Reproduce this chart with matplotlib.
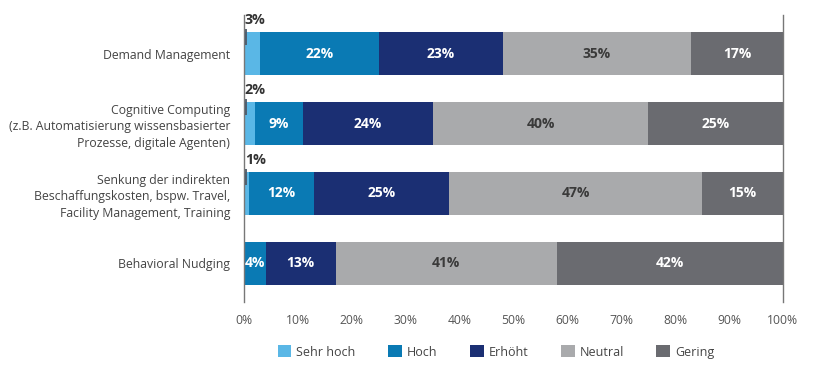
import matplotlib
matplotlib.use("Agg")
import matplotlib.pyplot as plt
from matplotlib.patches import Patch

plt.rcParams['font.family'] = ['Open Sans', 'DejaVu Sans']

categories = [
    "Demand Management",
    "Cognitive Computing\n(z.B. Automatisierung wissensbasierter\nProzesse, digitale Agenten)",
    "Senkung der indirekten\nBeschaffungskosten, bspw. Travel,\nFacility Management, Training",
    "Behavioral Nudging",
]
series_names = ["Sehr hoch", "Hoch", "Erhöht", "Neutral", "Gering"]
sehr_hoch = [3, 2, 1, 0]
hoch = [22, 9, 12, 4]
erhoeht = [23, 24, 25, 13]
neutral = [35, 40, 47, 41]
gering = [17, 25, 15, 42]
xticks = [0, 10, 20, 30, 40, 50, 60, 70, 80, 90, 100]
xtick_labels = [f"{t}%" for t in xticks]

series = [sehr_hoch, hoch, erhoeht, neutral, gering]
colors = ["#5ab7e6", "#0a7ab4", "#1b2f73", "#a9aaac", "#6a6b70"]
label_colors = ["#333333", "white", "white", "#3a3a3a", "white"]

fig = plt.figure(figsize=(8.2, 3.9), dpi=100)
ax = fig.add_axes([244/820, 1-302/390, (783-244)/820, (302-15)/390])

ypos = list(range(len(categories)))
left = [0]*len(categories)
for s, vals in enumerate(series):
    ax.barh(ypos, vals, left=left, height=0.62, color=colors[s], linewidth=0)
    for i, v in enumerate(vals):
        if v == 0:
            continue
        if s == 0 and v <= 3:
            ax.text(left[i] + 0.15, i - 0.38, f"{v}%", ha="left", va="bottom",
                    fontsize=10.3, fontweight="bold", color="#333333")
            ax.plot([left[i] + 0.45, left[i] + 0.45], [i - 0.35, i - 0.12],
                    color="#4d5866", lw=1.3, solid_capstyle="butt", zorder=5)
        else:
            ax.text(left[i] + v/2, i, f"{v}%", ha="center", va="center",
                    fontsize=10, fontweight="bold", color=label_colors[s])
    left = [l + v for l, v in zip(left, vals)]

ax.set_xlim(0, 100)
ax.set_ylim(3.557, -0.557)
ax.set_yticks(ypos)
ax.set_yticklabels(categories, fontsize=8.8, color="#444444", linespacing=1.35)
ax.set_xticks(xticks)
ax.set_xticklabels(xtick_labels, fontsize=8.7, color="#555555")
ax.tick_params(axis="y", length=0, pad=10)
ax.tick_params(axis="x", length=0, pad=9)
for sp in ["top", "bottom"]:
    ax.spines[sp].set_visible(False)
for sp in ["left", "right"]:
    ax.spines[sp].set_color("#777777")
    ax.spines[sp].set_linewidth(1.0)

handles = [Patch(facecolor=c, edgecolor="none") for c in colors]
fig.legend(handles, series_names, loc="center", bbox_to_anchor=(496/820, 1-352/390),
           ncol=5, frameon=False, fontsize=9, handlelength=1.1, handleheight=1.1,
           handletextpad=0.4, columnspacing=2.6, labelcolor="#444444")

fig.savefig("out.png", dpi=100)
